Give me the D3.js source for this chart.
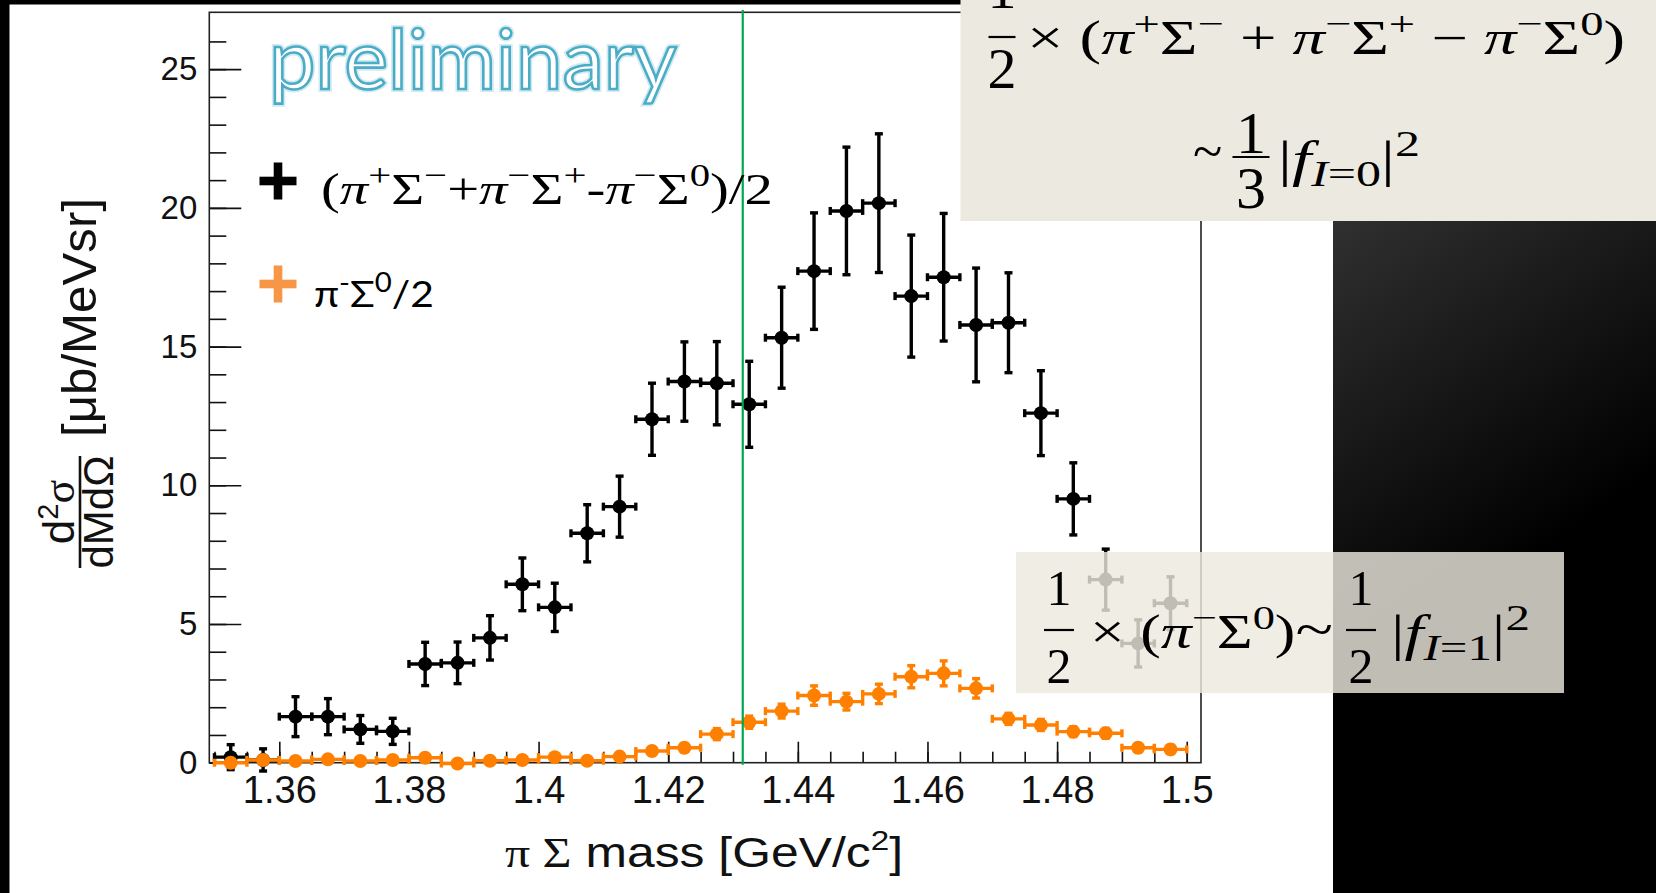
<!DOCTYPE html>
<html>

<head>
  <meta charset="utf-8">
  <title></title>
  <script src="https://cdnjs.cloudflare.com/ajax/libs/d3/7.8.5/d3.min.js"></script>
  <style>
    body { margin: 0; background: #000; }
    text { white-space: pre; }
  </style>
</head>

<body>
<script>
// bin centres of the pi Sigma mass histogram [GeV/c^2]
const massBins = [1.3525, 1.3575, 1.3625, 1.3675, 1.3725, 1.3775, 1.3825, 1.3875, 1.3925, 1.3975,
                  1.4025, 1.4075, 1.4125, 1.4175, 1.4225, 1.4275, 1.4325, 1.4375, 1.4425, 1.4475,
                  1.4525, 1.4575, 1.4625, 1.4675, 1.4725, 1.4775, 1.4825, 1.4875, 1.4925, 1.4975];

// (pi+Sigma- + pi-Sigma+ - pi-Sigma0)/2
const sumValues = [0.2, 0.1, 1.66, 1.66, 1.2, 1.13, 3.56, 3.6, 4.5, 6.43,
                   5.6, 8.27, 9.23, 12.38, 13.74, 13.68, 12.92, 15.32, 17.72, 19.89,
                   20.17, 16.82, 17.5, 15.78, 15.86, 12.6, 9.51, 6.6, 4.3, 5.75];
const sumErrors = [0.45, 0.4, 0.72, 0.65, 0.5, 0.47, 0.78, 0.75, 0.8, 0.95,
                   0.87, 1.03, 1.1, 1.3, 1.43, 1.5, 1.55, 1.82, 2.1, 2.3,
                   2.5, 2.2, 2.3, 2.05, 1.8, 1.53, 1.3, 1.1, 0.85, 0.95];

// pi-Sigma0 / 2
const pi0Values = [0.0, 0.1, 0.06, 0.12, 0.06, 0.1, 0.18, -0.03, 0.07, 0.1,
                   0.2, 0.07, 0.22, 0.42, 0.54, 1.03, 1.46, 1.86, 2.42, 2.2,
                   2.48, 3.1, 3.22, 2.68, 1.58, 1.36, 1.12, 1.06, 0.54, 0.48];
const pi0Errors = [0.05, 0.1, 0.1, 0.1, 0.1, 0.1, 0.1, 0.1, 0.1, 0.1,
                   0.12, 0.12, 0.12, 0.15, 0.15, 0.2, 0.22, 0.25, 0.35, 0.3,
                   0.35, 0.4, 0.45, 0.35, 0.2, 0.2, 0.18, 0.18, 0.15, 0.15];

const xMajorTicks = [1.36, 1.38, 1.40, 1.42, 1.44, 1.46, 1.48, 1.50];
const xTickLabels = ['1.36', '1.38', '1.4', '1.42', '1.44', '1.46', '1.48', '1.5'];
const yMajorTicks = [0, 5, 10, 15, 20, 25];
const yTickLabels = ['0', '5', '10', '15', '20', '25'];
const thresholdMass = 1.4315;
const binHalf = 0.0025;

const width = 1656;
const height = 893;
const frame = {left: 209.3, right: 1201, top: 12.3, bottom: 762.7};
const serif = '"Liberation Serif", "DejaVu Serif", serif';
const sans = '"Liberation Sans", Arial, sans-serif';
const calibri = 'Lato, "Open Sans", sans-serif';

const svg = d3.select('body').append('svg')
	.attr('width', width)
	.attr('height', height);

// slide background
const defs = svg.append('defs');
const grad = defs.append('linearGradient')
	.attr('id', 'panelGrad')
	.attr('gradientUnits', 'userSpaceOnUse')
	.attr('x1', 1333).attr('y1', 221).attr('x2', 1560).attr('y2', 540);
grad.append('stop').attr('offset', 0).attr('stop-color', '#303030');
grad.append('stop').attr('offset', 1).attr('stop-color', '#000');

svg.append('rect').attr('width', width).attr('height', height).attr('fill', '#000');
svg.append('rect').attr('x', 1333).attr('y', 0).attr('width', width - 1333).attr('height', height)
	.attr('fill', 'url(#panelGrad)');
svg.append('rect').attr('x', 9.5).attr('y', 4.5).attr('width', 1333 - 9.5).attr('height', height - 4.5)
	.attr('fill', '#fff');

const xScale = d3.scaleLinear()
	.domain([1.3492, 1.5022])
	.range([frame.left, frame.right]);

const yScale = d3.scaleLinear()
	.domain([0, 27.05])
	.range([frame.bottom, frame.top]);

// axes (ROOT style: ticks inside the frame)
const styleAxis = (g) => {
	g.select('.domain').remove();
	g.selectAll('line').attr('stroke', '#111').attr('stroke-width', 1.6);
	g.selectAll('text').attr('fill', '#111').attr('font-family', sans);
};

svg.append('g')
	.attr('transform', `translate(0 ${frame.bottom})`)
	.call(d3.axisBottom(xScale).tickValues(xScale.ticks(30)).tickSize(-11).tickFormat(''))
	.call(styleAxis);

svg.append('g')
	.attr('transform', `translate(0 ${frame.bottom})`)
	.call(d3.axisBottom(xScale).tickValues(xMajorTicks).tickSize(-21).tickPadding(13)
		.tickFormat((d, i) => xTickLabels[i]))
	.call(styleAxis)
	.selectAll('text').attr('font-size', 38);

svg.append('g')
	.attr('transform', `translate(${frame.left} 0)`)
	.call(d3.axisLeft(yScale).tickValues(yScale.ticks(27).filter(d => d < 26.5)).tickSize(-17).tickFormat(''))
	.call(styleAxis);

svg.append('g')
	.attr('transform', `translate(${frame.left} 0)`)
	.call(d3.axisLeft(yScale).tickValues(yMajorTicks).tickSize(-32).tickPadding(12)
		.tickFormat((d, i) => yTickLabels[i]))
	.call(styleAxis)
	.selectAll('text').attr('font-size', 33);

svg.append('rect')
	.attr('x', frame.left).attr('y', frame.top)
	.attr('width', frame.right - frame.left).attr('height', frame.bottom - frame.top)
	.attr('fill', 'none').attr('stroke', '#222').attr('stroke-width', 1.6);

// points with error bars
const drawSeries = (values, errors, colour) => {
	const g = svg.append('g').attr('stroke', colour).attr('fill', colour).attr('stroke-width', 3.4);
	const pts = g.selectAll('g').data(massBins).enter().append('g');
	const cap = 4;
	pts.append('line')
		.attr('x1', d => xScale(d - binHalf)).attr('x2', d => xScale(d + binHalf))
		.attr('y1', (d, i) => yScale(values[i])).attr('y2', (d, i) => yScale(values[i]));
	pts.append('line')
		.attr('x1', d => xScale(d)).attr('x2', d => xScale(d))
		.attr('y1', (d, i) => yScale(values[i] + errors[i])).attr('y2', (d, i) => yScale(values[i] - errors[i]));
	// end caps
	[-1, 1].forEach(s => {
		pts.append('line')
			.attr('x1', d => xScale(d) - cap).attr('x2', d => xScale(d) + cap)
			.attr('y1', (d, i) => yScale(values[i] + s * errors[i])).attr('y2', (d, i) => yScale(values[i] + s * errors[i]));
		pts.append('line')
			.attr('x1', d => xScale(d + s * binHalf)).attr('x2', d => xScale(d + s * binHalf))
			.attr('y1', (d, i) => yScale(values[i]) - cap).attr('y2', (d, i) => yScale(values[i]) + cap);
	});
	pts.append('circle')
		.attr('cx', d => xScale(d)).attr('cy', (d, i) => yScale(values[i]))
		.attr('r', 7).attr('stroke', 'none');
};

drawSeries(sumValues, sumErrors, '#000');
drawSeries(pi0Values, pi0Errors, '#ff8000');

svg.append('line')
	.attr('x1', xScale(thresholdMass)).attr('x2', xScale(thresholdMass))
	.attr('y1', 10).attr('y2', frame.bottom + 2)
	.attr('stroke', '#00a651').attr('stroke-width', 2.2);

// math text helper: parts are {t, it, sup, sub}
const mathText = (parent, x, y, parts, size, family) => {
	const t = parent.append('text').attr('x', x).attr('y', y)
		.attr('font-family', family || serif).attr('font-size', size).attr('fill', '#000');
	let shift = 0;
	parts.forEach(p => {
		const target = p.sup ? -size * 0.4 : p.sub ? size * 0.2 : 0;
		t.append('tspan')
			.attr('dy', target - shift)
			.attr('font-size', (p.sup || p.sub) ? size * 0.72 : (p.size || size))
			.attr('font-style', p.it ? 'italic' : 'normal')
			.text(p.t);
		shift = target;
	});
	return t;
};

const fitWidth = (t, x, target) => {
	const w = t.node().getComputedTextLength();
	const s = target / w;
	t.attr('transform', `translate(${x} 0) scale(${s} 1) translate(${-x} 0)`);
};

const fraction = (parent, cx, barY, barW, num, den, size, numBase, denBase) => {
	parent.append('line')
		.attr('x1', cx - barW / 2).attr('x2', cx + barW / 2)
		.attr('y1', barY).attr('y2', barY)
		.attr('stroke', '#000').attr('stroke-width', 2.2);
	parent.append('text').attr('x', cx).attr('y', numBase).attr('text-anchor', 'middle')
		.attr('font-family', serif).attr('font-size', size).text(num);
	parent.append('text').attr('x', cx).attr('y', denBase).attr('text-anchor', 'middle')
		.attr('font-family', serif).attr('font-size', size).text(den);
};

const P = (t, size) => ({t: t, size: size});
const I = (t) => ({t: t, it: true});
const SUP = (t) => ({t: t, sup: true});
const SUB = (t, it) => ({t: t, sub: true, it: it});

// "preliminary" stamp
const prelim = svg.append('g');
const prelimText = (sel) => sel.append('text')
	.attr('x', 269).attr('y', 89)
	.attr('font-family', calibri)
	.attr('font-size', 84)
	.text('preliminary');
const glow = prelimText(prelim).attr('fill', 'none').attr('stroke', '#4bacc6')
	.attr('stroke-width', 6).attr('stroke-opacity', 0.25);
const pre = prelimText(prelim).attr('fill', '#fff').attr('stroke', '#4bacc6').attr('stroke-width', 2.6);
fitWidth(glow, 269, 408);
fitWidth(pre, 269, 408);

// legend
const legend = svg.append('g');
const plus = (cx, cy, colour) => {
	legend.append('rect').attr('x', cx - 18.5).attr('y', cy - 4.3).attr('width', 37).attr('height', 8.6).attr('fill', colour);
	legend.append('rect').attr('x', cx - 4.3).attr('y', cy - 18.5).attr('width', 8.6).attr('height', 37).attr('fill', colour);
};
plus(278, 181, '#000');
plus(278, 284, '#f79646');

const leg1 = mathText(legend, 321, 204, [
	P('('), I('π'), SUP('+'), P('Σ'), SUP('−'), P('+'), I('π'), SUP('−'), P('Σ'), SUP('+'),
	P('-'), I('π'), SUP('−'), P('Σ'), SUP('0'), P(')/2')], 44);
fitWidth(leg1, 321, 452);

const leg2 = mathText(legend, 314, 307, [P('π'), SUP('-'), P('Σ'), SUP('0'), P('/2')], 37, calibri);
fitWidth(leg2, 314, 120);

// axis titles
const xTitle = svg.append('text')
	.attr('x', 505).attr('y', 867)
	.attr('font-family', sans).attr('font-size', 42).attr('fill', '#111');
xTitle.append('tspan').attr('font-family', serif).text('π Σ');
xTitle.append('tspan').text(' mass [GeV/c');
xTitle.append('tspan').attr('font-size', 28).attr('dy', -17).text('2');
xTitle.append('tspan').attr('dy', 17).text(']');
fitWidth(xTitle, 505, 398);

const yTitle = svg.append('g').attr('transform', 'translate(80 512) rotate(-90)')
	.attr('font-family', sans).attr('fill', '#111');
yTitle.append('line').attr('x1', -56).attr('x2', 56).attr('y1', 0).attr('y2', 0)
	.attr('stroke', '#111').attr('stroke-width', 2.6);
const num = yTitle.append('text').attr('x', 0).attr('y', -6).attr('text-anchor', 'middle').attr('font-size', 44);
num.append('tspan').text('d');
num.append('tspan').attr('font-size', 29).attr('dy', -16).text('2');
num.append('tspan').attr('dy', 16).attr('font-family', serif).text('σ');
yTitle.append('text').attr('x', 0).attr('y', 33).attr('text-anchor', 'middle').attr('font-size', 42).text('dMdΩ');
const unit = yTitle.append('text').attr('x', 75).attr('y', 16).attr('font-size', 48).text('[μb/MeVsr]');
fitWidth(unit, 75, 239);

// formula boxes
const topBox = svg.append('g');
topBox.append('rect').attr('x', 960.5).attr('y', 0).attr('width', width - 960.5).attr('height', 221)
	.attr('fill', '#ece9e0');
fraction(topBox, 1002, 37, 27, '1', '2', 58, 8, 88);
const top1 = mathText(topBox, 1027, 54, [
	P('× ('), I('π'), SUP('+'), P('Σ'), SUP('−'), P(' + '), I('π'), SUP('−'), P('Σ'), SUP('+'),
	P(' − '), I('π'), SUP('−'), P('Σ'), SUP('0'), P(')')], 48);
fitWidth(top1, 1027, 598);
mathText(topBox, 1193, 170, [P('~')], 54);
fraction(topBox, 1251, 157, 37, '1', '3', 60, 153, 208);
const top2 = mathText(topBox, 1278, 176, [P('|'), I('f'), SUB('I', true), SUB('=0'), P('|'), SUP('2')], 50);
fitWidth(top2, 1278, 142);

const lowBox = svg.append('g');
lowBox.append('rect').attr('x', 1016).attr('y', 552).attr('width', 548).attr('height', 141)
	.attr('fill', '#ede9df').attr('fill-opacity', 0.81);
fraction(lowBox, 1059, 630, 30, '1', '2', 50, 605, 683);
const low1 = mathText(lowBox, 1090, 648, [P('× '), P('('), I('π'), SUP('−'), P('Σ'), SUP('0'), P(')'), P('~', 54)], 48);
fitWidth(low1, 1090, 243);
fraction(lowBox, 1361, 630, 30, '1', '2', 50, 605, 683);
const low2 = mathText(lowBox, 1391, 650, [P('|'), I('f'), SUB('I', true), SUB('=1'), P('|'), SUP('2')], 50);
fitWidth(low2, 1391, 139);
</script>

</body>

</html>
